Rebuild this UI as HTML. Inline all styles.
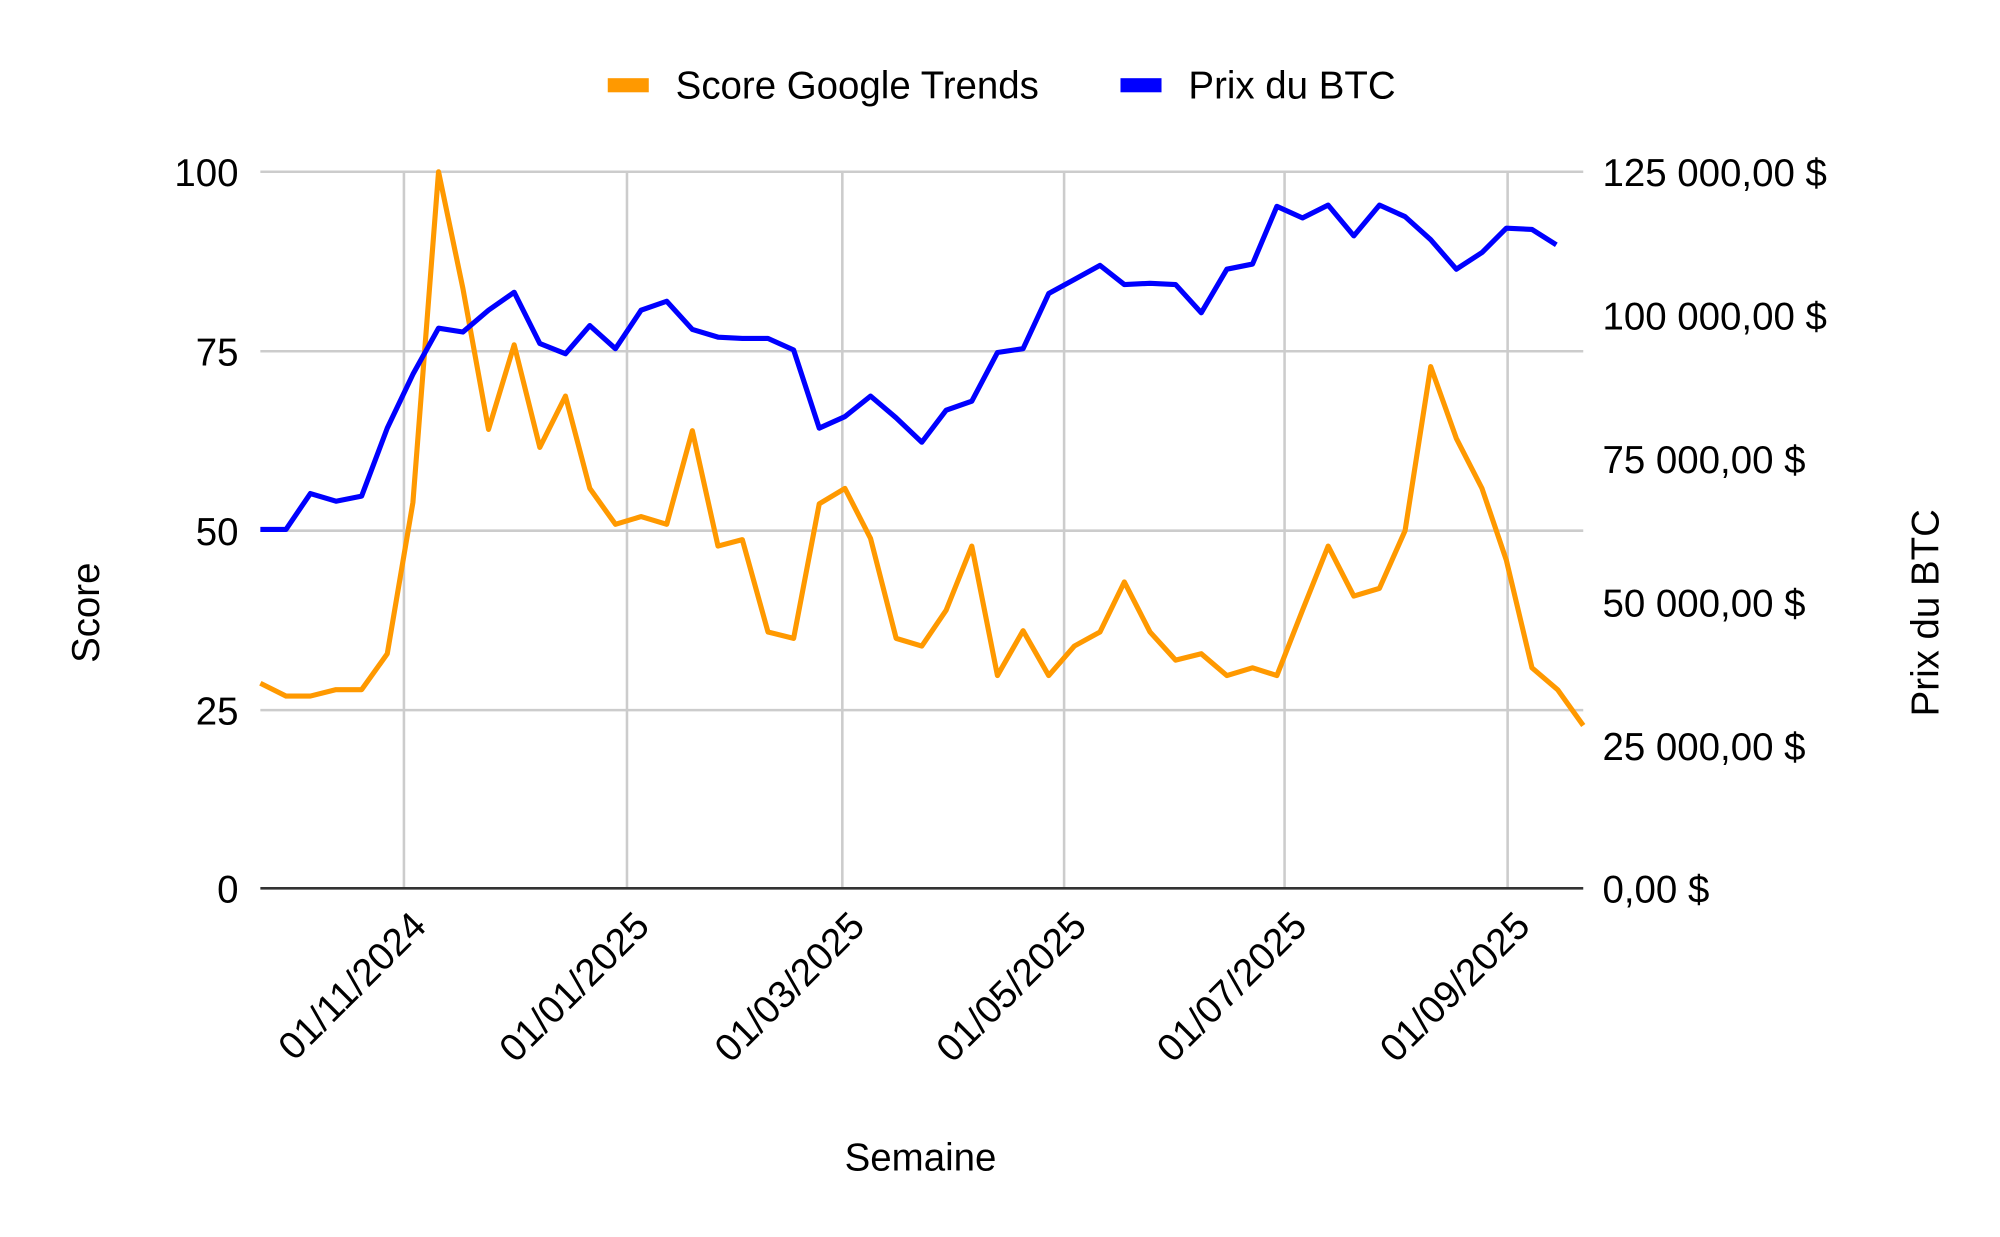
<!DOCTYPE html>
<html><head><meta charset="utf-8"><style>html,body{margin:0;padding:0;background:#fff}svg{display:block}</style></head>
<body>
<svg width="2000" height="1237" viewBox="0 0 1560 965" xmlns="http://www.w3.org/2000/svg" font-family="Liberation Sans, sans-serif">
<rect width="1560" height="965" fill="#fff"/>
<g stroke="#cccccc" stroke-width="2">
<line x1="203" y1="134" x2="1235" y2="134"/>
<line x1="203" y1="274" x2="1235" y2="274"/>
<line x1="203" y1="414" x2="1235" y2="414"/>
<line x1="203" y1="554" x2="1235" y2="554"/>
<line x1="315" y1="134" x2="315" y2="693"/>
<line x1="489" y1="134" x2="489" y2="693"/>
<line x1="657" y1="134" x2="657" y2="693"/>
<line x1="830" y1="134" x2="830" y2="693"/>
<line x1="1002" y1="134" x2="1002" y2="693"/>
<line x1="1176" y1="134" x2="1176" y2="693"/>
</g>
<line x1="203" y1="693" x2="1235" y2="693" stroke="#333" stroke-width="2"/>
<g font-size="30" fill="#000" text-anchor="end">
<text x="186" y="145">100</text><text x="186" y="285">75</text><text x="186" y="425">50</text><text x="186" y="565">25</text><text x="186" y="704">0</text>
</g>
<g font-size="30" fill="#000" text-anchor="start">
<text x="1250" y="145">125 000,00 $</text><text x="1250" y="257">100 000,00 $</text><text x="1250" y="369">75 000,00 $</text><text x="1250" y="481">50 000,00 $</text><text x="1250" y="593">25 000,00 $</text><text x="1250" y="704">0,00 $</text>
</g>
<g font-size="30" fill="#000" text-anchor="end">
<text transform="translate(334,724) rotate(-45)">01/11/2024</text>
<text transform="translate(508,724) rotate(-45)">01/01/2025</text>
<text transform="translate(676,724) rotate(-45)">01/03/2025</text>
<text transform="translate(849,724) rotate(-45)">01/05/2025</text>
<text transform="translate(1021,724) rotate(-45)">01/07/2025</text>
<text transform="translate(1195,724) rotate(-45)">01/09/2025</text>
</g>
<text x="718" y="913" font-size="30" text-anchor="middle">Semaine</text>
<text transform="translate(77,478) rotate(-90)" font-size="30" text-anchor="middle">Score</text>
<text transform="translate(1512,478) rotate(-90)" font-size="30" text-anchor="middle">Prix du BTC</text>
<rect x="474" y="61" width="32" height="11" fill="#ff9900"/>
<text x="527" y="77" font-size="30">Score Google Trends</text>
<rect x="874" y="61" width="32" height="11" fill="#0000ff"/>
<text x="927" y="77" font-size="30">Prix du BTC</text>
<polyline fill="none" stroke="#ff9900" stroke-width="4" stroke-linejoin="round" points="203,533 223,543 242,543 262,538 282,538 302,510 322,392 342,134 361,225 381,335 401,269 421,349 441,309 460,381 480,409 500,403 520,409 540,336 560,426 579,421 599,493 619,498 639,393 659,381 679,420 699,498 719,504 738,476 758,426 778,527 798,492 818,527 838,504 858,493 877,454 897,493 917,515 937,510 957,527 977,521 996,527 1016,476 1036,426 1056,465 1076,459 1096,414 1116,286 1136,342 1156,381 1175,437 1195,521 1215,538 1235,566"/>
<polyline fill="none" stroke="#0000ff" stroke-width="4" stroke-linejoin="round" points="203,413 223,413 242,385 262,391 282,387 302,334 322,292 342,256 361,259 381,242 401,228 421,268 441,276 460,254 480,272 500,242 520,235 540,257 560,263 579,264 599,264 619,273 639,334 659,325 679,309 699,326 719,345 738,320 758,313 778,275 798,272 818,229 838,218 858,207 877,222 897,221 917,222 937,244 957,210 977,206 996,161 1016,170 1036,160 1056,184 1076,160 1096,169 1116,187 1136,210 1156,197 1175,178 1195,179 1214,191"/>
</svg>
</body></html>
